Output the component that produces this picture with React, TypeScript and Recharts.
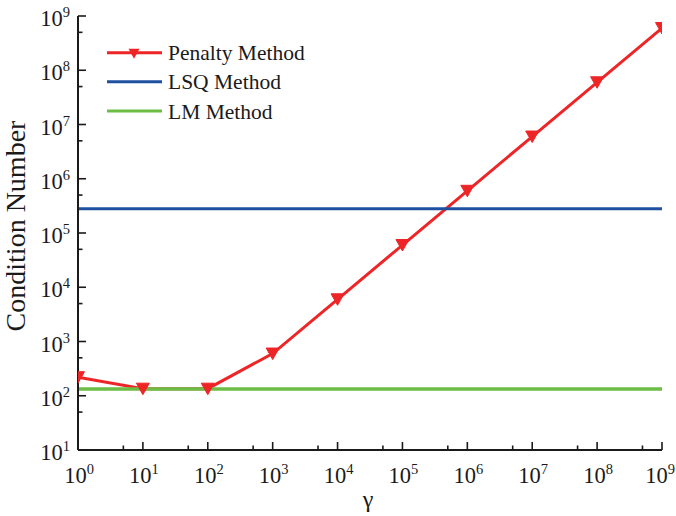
import React from 'react';
import { LineChart, Line, XAxis, YAxis, Legend } from 'recharts';

const gammaValues = [1, 1e1, 1e2, 1e3, 1e4, 1e5, 1e6, 1e7, 1e8, 1e9];
const penaltyValues = [220, 135, 135, 600, 6000, 6e4, 6e5, 6e6, 6e7, 6e8];
const lsqValue = 2.8e5;
const lmValue = 133;
const xDomain = [1, 1e9];
const yDomain = [10, 1e9];
const xTicks = [1, 5, 1e1, 5e1, 1e2, 5e2, 1e3, 5e3, 1e4, 5e4, 1e5, 5e5, 1e6, 5e6, 1e7, 5e7, 1e8, 5e8, 1e9];
const yTicks = [1e1, 5e1, 1e2, 5e2, 1e3, 5e3, 1e4, 5e4, 1e5, 5e5, 1e6, 5e6, 1e7, 5e7, 1e8, 5e8, 1e9];
const seriesNames = ['Penalty Method', 'LSQ Method', 'LM Method'];
const xLabel = 'γ';
const yLabel = 'Condition Number';

const RED = '#ee2527';
const BLUE = '#1f50a0';
const GREEN = '#6cbd45';
const INK = '#1a1a1a';
const FONT = "'Liberation Serif', 'Times New Roman', serif";

const penaltyData = gammaValues.map((g, i) => ({ gamma: g, value: penaltyValues[i] }));
const lsqData = xDomain.map((g) => ({ gamma: g, value: lsqValue }));
const lmData = xDomain.map((g) => ({ gamma: g, value: lmValue }));

const isMajor = (v: number) => Math.abs(Math.log10(v) - Math.round(Math.log10(v))) < 1e-9;
const expOf = (v: number) => Math.round(Math.log10(v));

const BottomTick = (p: any) => {
  const { x, y, payload } = p;
  const v = payload.value;
  const major = isMajor(v);
  const isLast = v === xDomain[1];
  return (
    <g>
      <line x1={x} y1={y} x2={x} y2={y - (major ? 8 : 4.5)} stroke={INK} strokeWidth={1.6} />
      {major && (
        <text x={isLast ? x - 2 : x + 1} y={y + 33} textAnchor="middle" fontSize={22.5} fill={INK} fontFamily={FONT}>
          10<tspan dy={-9} fontSize={14.5}>{expOf(v)}</tspan>
        </text>
      )}
    </g>
  );
};

const TopTick = (p: any) => {
  const { x, y, payload } = p;
  const major = isMajor(payload.value);
  return <line x1={x} y1={y} x2={x} y2={y + (major ? 8 : 4.5)} stroke={INK} strokeWidth={1.6} />;
};

const LeftTick = (p: any) => {
  const { x, y, payload } = p;
  const v = payload.value;
  const major = isMajor(v);
  return (
    <g>
      <line x1={x} y1={y} x2={x + (major ? 8 : 4.5)} y2={y} stroke={INK} strokeWidth={1.6} />
      {major && (
        <text x={x - 8} y={y + 10} textAnchor="end" fontSize={22.5} fill={INK} fontFamily={FONT}>
          10<tspan dy={-9} fontSize={14.5}>{expOf(v)}</tspan>
        </text>
      )}
    </g>
  );
};

const RightTick = (p: any) => {
  const { x, y, payload } = p;
  const major = isMajor(payload.value);
  return <line x1={x} y1={y} x2={x - (major ? 8 : 4.5)} y2={y} stroke={INK} strokeWidth={1.6} />;
};

const TriangleDot = (p: any) => {
  const { cx, cy, index } = p;
  if (cx == null || cy == null) return <g key={index} />;
  return (
    <path
      key={index}
      d={`M${cx - 6.5},${cy - 5.5} L${cx + 6.5},${cy - 5.5} L${cx},${cy + 6} Z`}
      fill={RED}
      stroke={RED}
      strokeWidth={1}
    />
  );
};

const LegendContent = () => {
  const colors = [RED, BLUE, GREEN];
  const rowsY = [22.7, 51.7, 81];
  return (
    <svg width={240} height={100} style={{ overflow: 'visible' }}>
      {seriesNames.map((name, i) => (
        <g key={name}>
          <line x1={7} y1={rowsY[i]} x2={62} y2={rowsY[i]} stroke={colors[i]} strokeWidth={3} />
          {i === 0 && (
            <path
              d={`M${34 - 5.5},${rowsY[i] - 4} L${34 + 5.5},${rowsY[i] - 4} L${34},${rowsY[i] + 6} Z`}
              fill={RED}
            />
          )}
          <text x={68} y={rowsY[i] + 7.5} fontSize={21.5} fill={INK} fontFamily={FONT}>
            {name}
          </text>
        </g>
      ))}
    </svg>
  );
};

export default function App() {
  return (
    <div style={{ position: 'absolute', left: 0, top: 0, background: '#fff' }}>
      <LineChart width={676} height={516} margin={{ top: 16, right: 14, left: 0, bottom: 0 }}>
        <XAxis
          xAxisId="bottom"
          dataKey="gamma"
          type="number"
          scale="log"
          domain={xDomain}
          ticks={xTicks}
          interval={0}
          allowDataOverflow
          height={66}
          tickSize={0}
          tickMargin={0}
          tickLine={false}
          axisLine={{ stroke: INK, strokeWidth: 2 }}
          tick={(p: any) => <BottomTick {...p} />}
          label={{
            content: (lp: any) => {
              const vb = lp.viewBox || { x: 78, y: 450, width: 584 };
              return (
                <text x={vb.x + vb.width / 2 - 2} y={vb.y + 57} textAnchor="middle" fontSize={24} fill={INK} fontFamily={FONT}>
                  {xLabel}
                </text>
              );
            },
          }}
        />
        <XAxis
          xAxisId="top"
          orientation="top"
          type="number"
          scale="log"
          domain={xDomain}
          ticks={xTicks}
          interval={0}
          allowDataOverflow
          height={0}
          tickSize={0}
          tickMargin={0}
          tickLine={false}
          axisLine={{ stroke: INK, strokeWidth: 2 }}
          tick={(p: any) => <TopTick {...p} />}
        />
        <YAxis
          yAxisId="left"
          type="number"
          scale="log"
          domain={yDomain}
          ticks={yTicks}
          interval={0}
          allowDataOverflow
          width={78}
          tickSize={0}
          tickMargin={0}
          tickLine={false}
          axisLine={{ stroke: INK, strokeWidth: 2 }}
          tick={(p: any) => <LeftTick {...p} />}
          label={{
            content: (lp: any) => {
              const vb = lp.viewBox || { x: 0, y: 16, height: 434 };
              const cx = 25;
              const cy = vb.y + vb.height / 2 - 7;
              return (
                <text x={cx} y={cy} transform={`rotate(-90, ${cx}, ${cy})`} textAnchor="middle" fontSize={28} fill={INK} fontFamily={FONT}>
                  {yLabel}
                </text>
              );
            },
          }}
        />
        <YAxis
          yAxisId="right"
          orientation="right"
          type="number"
          scale="log"
          domain={yDomain}
          ticks={yTicks}
          interval={0}
          allowDataOverflow
          width={0}
          tickSize={0}
          tickMargin={0}
          tickLine={false}
          axisLine={{ stroke: INK, strokeWidth: 2 }}
          tick={(p: any) => <RightTick {...p} />}
        />
        <Legend
          layout="vertical"
          align="center"
          verticalAlign="middle"
          wrapperStyle={{ left: 100, top: 30, width: 240, height: 100 }}
          content={() => <LegendContent />}
        />
        <Line
          xAxisId="bottom"
          yAxisId="left"
          data={penaltyData}
          dataKey="value"
          stroke={RED}
          strokeWidth={3}
          dot={(p: any) => <TriangleDot {...p} />}
          activeDot={false}
          isAnimationActive={false}
        />
        <Line
          xAxisId="bottom"
          yAxisId="left"
          data={lsqData}
          dataKey="value"
          stroke={BLUE}
          strokeWidth={3}
          dot={false}
          activeDot={false}
          isAnimationActive={false}
        />
        <Line
          xAxisId="bottom"
          yAxisId="left"
          data={lmData}
          dataKey="value"
          stroke={GREEN}
          strokeWidth={3.5}
          dot={false}
          activeDot={false}
          isAnimationActive={false}
        />
      </LineChart>
    </div>
  );
}
